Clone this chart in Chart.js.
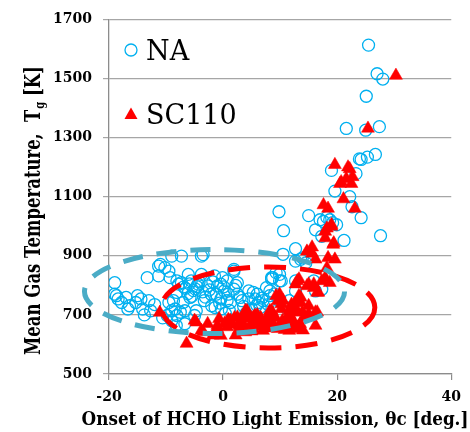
<!DOCTYPE html>
<html>
<head>
<meta charset="utf-8">
<script src="https://cdn.jsdelivr.net/npm/chart.js@4.4.1/dist/chart.umd.min.js"></script>
<style>
html,body{margin:0;padding:0;background:#fff;}
#c{display:block;}
</style>
</head>
<body>
<canvas id="c" width="470" height="432"></canvas>
<script>
// ---- data ----
const xTickValues = [-20, 0, 20, 40];
const yTickValues = [500, 700, 900, 1100, 1300, 1500, 1700];
const seriesNames = ["NA", "SC110"];
const xTitle = "Onset of HCHO Light Emission, \u03b8c [deg.]";
const yTitleParts = ["Mean Gas Temperature,  T", "g", " [K]"];

const naX = [25.5,27.0,28.0,25.1,21.6,25.0,27.4,26.7,25.3,24.2,23.9,19.0,23.3,19.6,22.2,22.6,24.2,9.8,15.0,17.0,17.6,18.7,16.2,19.9,10.6,27.6,21.2,12.7,10.5,17.3,18.2,19.2,
  13.6,12.7,13.9,14.5,9.3,8.5,9.9,12.7,17.3,8.7,8.2,9.9,7.0,5.6,4.5,3.3,2.5,0.7,-0.4,1.9,11.6,12.7,16.2,15.9,
  -19.0,-7.3,-11.0,-13.3,-11.3,-9.5,-9.3,-8.1,-19.0,-18.4,-17.0,-16.4,-15.0,-14.4,-15.3,-13.0,-14.1,-12.7,-16.7,-18.7,-9.5,-9.0,-7.5,-9.8,-8.1,-6.1,-7.3,-11.3,-9.0,-3.5,-7.8,-8.7,-8.4,-8.1,-6.7,-7.0,-5.8,-5.0,-4.7,-3.8,
  1.9,-0.1,0.7,8.5,9.9,10.2,7.6,8.2,5.3,4.5,6.2,3.0,1.3,-0.4,-2.1,-3.3,-2.7,-4.4,-5.6,-1.0,0.2,1.9,2.5,-1.5,-3.8,
  -6.6,-5.9,-5.2,-4.6,-6.2,-5.5,-4.9,-4.2,-3.6,-6.9,-3.1,-2.4,-1.8,-1.2,-0.6,0.1,0.9,-2.0,-1.4,-0.3,0.4,1.1,
  -8.2,-9.0,-6.7,-10.6,-12.0,-13.8,-17.8,-10.2,5.0,6.5,7.5,4.0,5.9,6.8,3.6,2.2,7.9,9.0,6.0,11.0];
const naY = [1613,1516,1498,1440,1331,1325,1337,1243,1234,1226,1228,1189,1178,1119,1100,1066,1029,1049,1036,1022,1016,1022,988,1005,985,968,952,924,905,966,1030,1012,
  888,882,893,876,843,821,815,815,787,826,781,748,748,754,781,748,770,748,804,848,748,781,781,815,
  809,899,871,826,832,848,826,815,770,754,759,731,765,754,742,748,720,714,720,765,742,714,709,698,776,837,809,865,899,904,804,748,720,698,714,742,759,698,714,899,
  854,826,815,826,837,815,792,765,776,754,742,759,742,754,770,748,798,804,815,798,781,787,809,832,837,
  790,805,782,796,772,763,788,812,778,795,760,785,812,770,740,795,770,731,725,720,705,715,
  664,680,670,690,735,700,742,860,720,725,710,705,733,757,729,800,735,771,770,725];

const scX = [30.3,25.4,19.6,22.2,21.6,20.5,22.5,21.1,23.1,17.6,18.4,19.0,17.9,19.4,15.6,19.3,14.7,16.2,18.4,19.6,18.2,17.9,17.3,18.7,13.0,14.7,15.9,16.5,
  9.9,13.3,13.6,11.9,12.5,16.5,15.0,10.2,8.5,21.9,20.7,22.7,17.9,18.2,19.0,15.6,13.3,12.7,15.0,15.9,10.5,12.0,13.3,11.6,13.9,16.2,14.5,11.3,11.6,13.0,
  -11.1,-6.4,-4.7,-2.7,-3.5,-1.8,-1.0,1.3,-0.4,-5.0,-0.7,1.0,-3.8,
  3.9,5.6,8.2,9.6,2.5,3.3,4.2,5.3,6.2,7.6,8.5,9.3,10.2,10.2,11.6,12.7,13.6,13.0,15.0,14.2,16.2,11.0,9.6,7.0,5.3,3.9,2.2,0.7,-1.0,16.7,
  0.3,0.9,1.6,2.0,2.8,3.1,3.6,4.4,4.8,5.0,5.8,6.4,6.6,7.2,7.9,8.1,8.8,9.2,9.8,10.4,10.8,11.3,11.9,12.3,12.8,13.5,14.0,6.0,4.0,2.7];
const scY = [1510,1331,1208,1194,1161,1144,1144,1092,1060,1072,1060,999,982,943,929,938,915,888,893,888,859,826,815,809,815,798,804,776,
  770,765,742,725,709,709,703,737,714,1200,1150,1167,960,993,1005,908,821,804,804,792,748,735,742,714,709,709,692,687,647,658,
  708,603,675,670,642,631,664,681,630,681,687,681,647,
  714,698,714,748,692,675,714,692,681,687,698,765,754,720,703,742,759,714,731,692,664,670,653,647,653,642,631,659,653,776,
  672,684,668,690,663,681,659,688,667,645,676,662,690,671,655,680,668,690,662,680,650,690,662,680,652,670,648,700,700,648];

// dashed ellipses (data units): center x, center y, radius x, radius y
const ellipseNA = [-1.5, 779, 22.8, 142];
const ellipseSC = [7.9, 725, 18.7, 137];

const toPts = (xs, ys) => xs.map((x, i) => ({x: x, y: ys[i]}));

const SERIF = "'DejaVu Serif', 'Liberation Serif', serif";
const NA_COLOR = "#00B0F0";
const SC_COLOR = "#FF0000";

const ellipsePlugin = {
  id: 'ellipses',
  afterDatasetsDraw(chart) {
    const xs = chart.scales.x, ys = chart.scales.y, ctx = chart.ctx;
    const draw = (e, color, dash) => {
      const cx = xs.getPixelForValue(e[0]), cy = ys.getPixelForValue(e[1]);
      const rx = Math.abs(xs.getPixelForValue(e[0] + e[2]) - cx);
      const ry = Math.abs(ys.getPixelForValue(e[1] + e[3]) - cy);
      ctx.save();
      ctx.beginPath();
      ctx.ellipse(cx, cy, rx, ry, 0, 0, Math.PI * 2);
      ctx.setLineDash(dash);
      ctx.lineWidth = 5;
      ctx.strokeStyle = color;
      ctx.stroke();
      ctx.restore();
    };
    draw(ellipseSC, SC_COLOR, [22, 14]);
    draw(ellipseNA, "#4BACC6", [20, 14]);
  }
};

const textPlugin = {
  id: 'texts',
  afterDraw(chart) {
    const ctx = chart.ctx;
    ctx.save();
    // legend
    ctx.lineWidth = 1.3;
    ctx.strokeStyle = NA_COLOR;
    ctx.beginPath();
    ctx.arc(131, 50, 6, 0, Math.PI * 2);
    ctx.stroke();
    ctx.fillStyle = SC_COLOR;
    ctx.beginPath();
    ctx.moveTo(131, 107.5);
    ctx.lineTo(137.5, 119);
    ctx.lineTo(124.5, 119);
    ctx.closePath();
    ctx.fill();
    ctx.fillStyle = "#000";
    ctx.font = "27px " + SERIF;
    ctx.textBaseline = "alphabetic";
    ctx.textAlign = "left";
    ctx.fillText(seriesNames[0], 146, 60);
    ctx.fillText(seriesNames[1], 146, 124);
    // x title
    ctx.save();
    ctx.font = "bold 16px " + SERIF;
    ctx.textAlign = "center";
    ctx.textBaseline = "alphabetic";
    ctx.translate(275, 425);
    ctx.scale(1.05, 1.1);
    ctx.fillText(xTitle, 0, 0);
    ctx.restore();
    // y title with subscript
    ctx.save();
    ctx.translate(40, 211);
    ctx.rotate(-Math.PI / 2);
    ctx.scale(1, 1.35);
    const f1 = "bold 16.5px " + SERIF, f2 = "bold 10px " + SERIF;
    ctx.font = f1; const w1 = ctx.measureText(yTitleParts[0]).width;
    const w3 = ctx.measureText(yTitleParts[2]).width;
    ctx.font = f2; const w2 = ctx.measureText(yTitleParts[1]).width;
    let x0 = -(w1 + w2 + w3) / 2;
    ctx.textAlign = "left";
    ctx.textBaseline = "alphabetic";
    ctx.font = f1; ctx.fillText(yTitleParts[0], x0, 0);
    ctx.font = f2; ctx.fillText(yTitleParts[1], x0 + w1 + 1, 3);
    ctx.font = f1; ctx.fillText(yTitleParts[2], x0 + w1 + w2 + 1, 0);
    ctx.restore();
    ctx.restore();
  }
};

const tickFont = {family: SERIF, size: 14, weight: 'bold'};

new Chart(document.getElementById('c'), {
  type: 'scatter',
  data: {
    datasets: [
      {
        label: seriesNames[1],
        data: toPts(scX, scY),
        order: 0,
        pointStyle: 'triangle',
        pointRadius: 7.5,
        backgroundColor: SC_COLOR,
        borderColor: SC_COLOR,
        borderWidth: 0.5
      },
      {
        label: seriesNames[0],
        data: toPts(naX, naY),
        order: 1,
        pointStyle: 'circle',
        pointRadius: 6,
        backgroundColor: 'rgba(255,255,255,0)',
        borderColor: NA_COLOR,
        borderWidth: 1.3
      }
    ]
  },
  options: {
    responsive: false,
    animation: false,
    devicePixelRatio: 1,
    layout: {padding: {left: 0, right: 11, top: 16, bottom: 0}},
    plugins: {legend: {display: false}, tooltip: {enabled: false}, title: {display: false}},
    scales: {
      x: {
        type: 'linear',
        min: -20, max: 40,
        afterBuildTicks: (s) => { s.ticks = xTickValues.map(v => ({value: v})); },
        afterFit: (s) => { s.height = 58; },
        ticks: {font: tickFont, color: '#000', padding: 9, callback: (v) => String(v)},
        grid: {drawOnChartArea: false, drawTicks: true, tickLength: 6, color: '#8c8c8c', lineWidth: 1.2},
        border: {color: '#8c8c8c', width: 1.3}
      },
      y: {
        type: 'linear',
        min: 500, max: 1700,
        afterBuildTicks: (s) => { s.ticks = yTickValues.map(v => ({value: v})); },
        afterFit: (s) => { s.width = 109; },
        ticks: {font: tickFont, color: '#000', padding: 11, callback: (v) => String(v)},
        grid: {color: '#a6a6a6', lineWidth: 1.2, tickLength: 6},
        border: {color: '#8c8c8c', width: 1.3}
      }
    }
  },
  plugins: [ellipsePlugin, textPlugin]
});
</script>
</body>
</html>
